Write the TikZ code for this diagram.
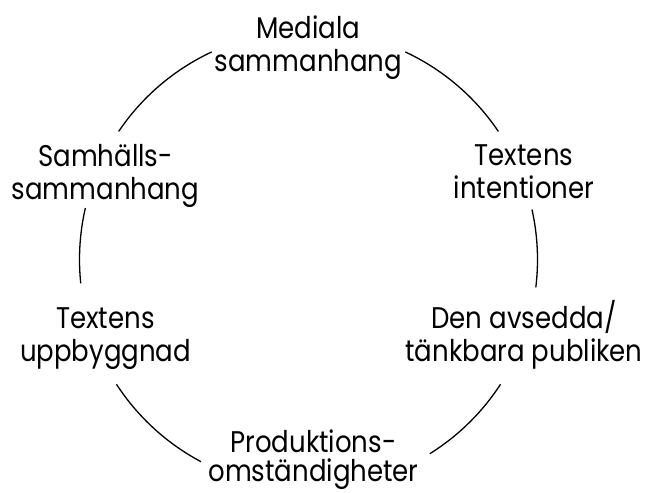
\documentclass[tikz,border=0pt]{standalone}
\usepackage{fontspec}
\setmainfont[FakeStretch=0.87]{Poppins}
\begin{document}
\begin{tikzpicture}[x=1bp,y=1bp,
  lbl/.style={align=center,anchor=base,inner sep=0pt,font=\fontsize{30}{34}\selectfont},
  ring/.style={line width=1.3bp,black}]
\useasboundingbox (0,0) rectangle (654,493);
\coordinate (c) at (308.5,233.5);
\node[lbl] (med) at (308.5,421) {Mediala\\sammanhang};
\node[lbl] (sam) at (105.5,293) {Samhälls-\\sammanhang};
\node[lbl] (int) at (524,294) {Textens\\intentioner};
\node[lbl] (upp) at (105.5,131) {Textens\\uppbyggnad};
\node[lbl] (pub) at (524,131) {Den avsedda/\\tänkbara publiken};
\node[lbl] (pro) at (313.5,11) {Produktions-\\[-4bp]omständigheter};
\draw[ring] ([shift={(c)}]115:229) arc[start angle=115,end angle=146,radius=229];
\draw[ring] ([shift={(c)}]167:229) arc[start angle=167,end angle=186,radius=229];
\draw[ring] ([shift={(c)}]213:229) arc[start angle=213,end angle=242,radius=229];
\draw[ring] ([shift={(c)}]302:229) arc[start angle=302,end angle=327,radius=229];
\draw[ring] ([shift={(c)}]-7:229) arc[start angle=-7,end angle=12.6,radius=229];
\draw[ring] ([shift={(c)}]34:229) arc[start angle=34,end angle=65,radius=229];
\end{tikzpicture}
\end{document}
